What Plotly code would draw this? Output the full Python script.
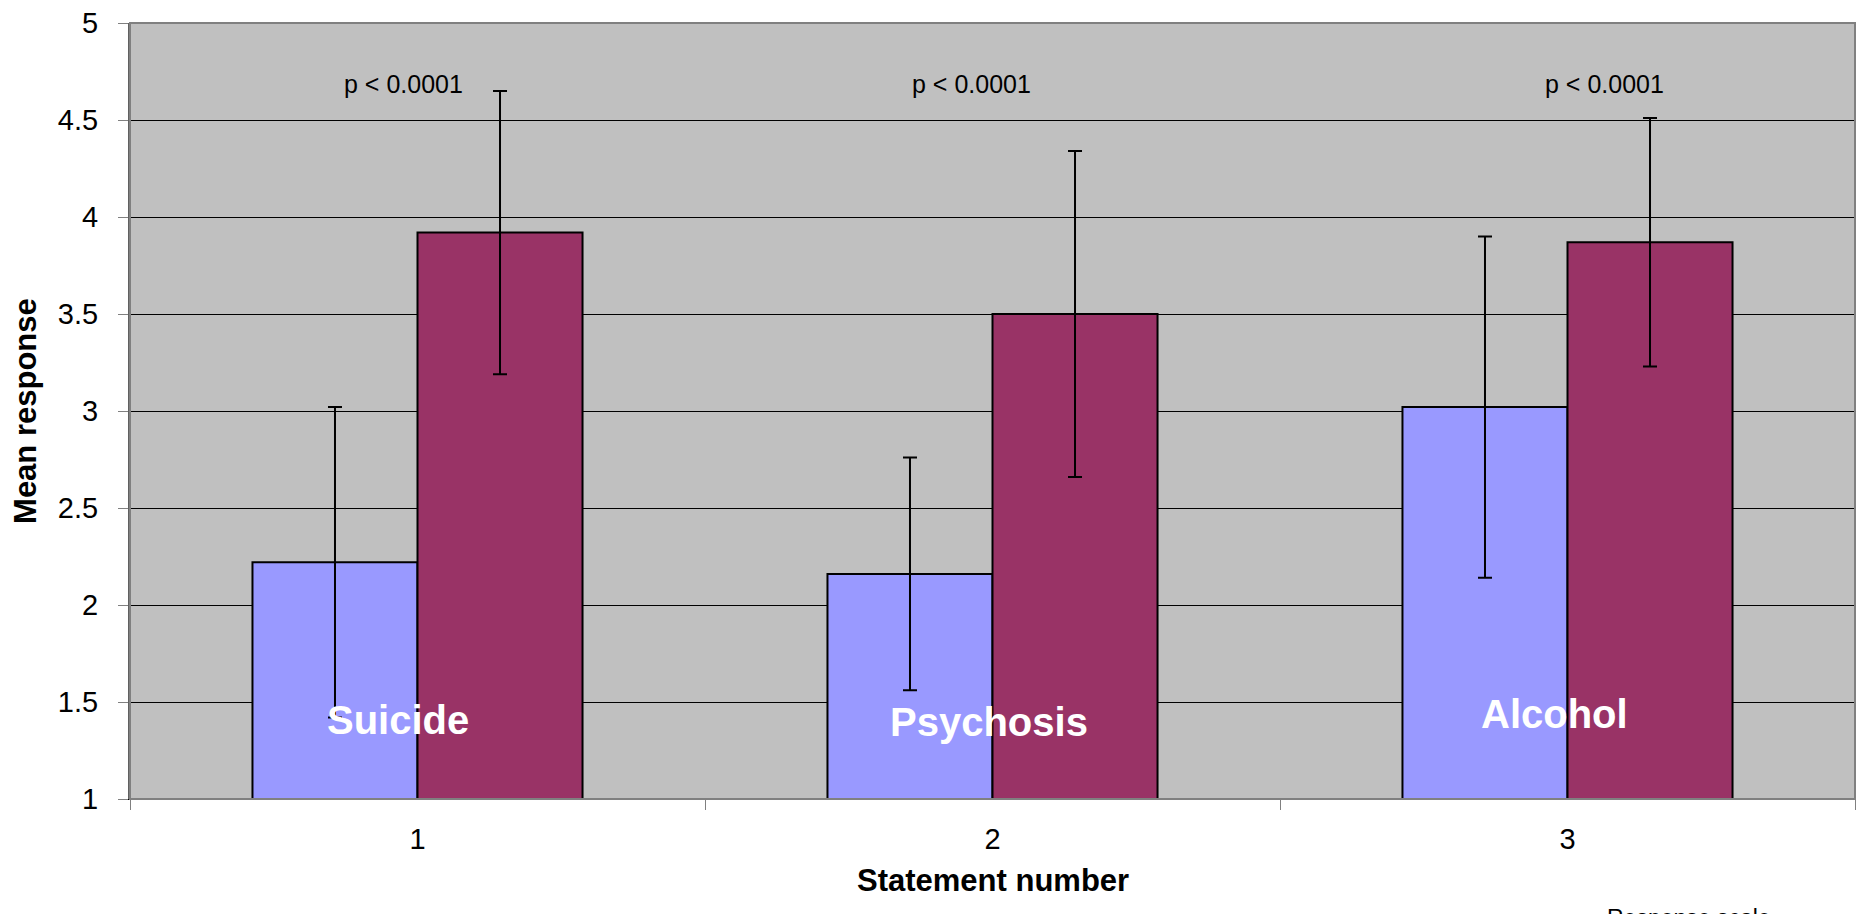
import plotly.graph_objects as go

categories = ["1", "2", "3"]
group1_means = [2.22, 2.16, 3.02]
group1_err = [0.80, 0.60, 0.88]
group2_means = [3.92, 3.50, 3.87]
group2_err = [0.73, 0.84, 0.64]
statement_labels = ["Suicide", "Psychosis", "Alcohol"]
p_labels = ["p < 0.0001", "p < 0.0001", "p < 0.0001"]
y_ticks = [1, 1.5, 2, 2.5, 3, 3.5, 4, 4.5, 5]

FONT = "Liberation Sans, Arial, sans-serif"

fig = go.Figure()
fig.add_trace(go.Bar(
    x=categories, y=group1_means,
    marker=dict(color="#9999FF", line=dict(color="black", width=2)),
    error_y=dict(type="data", array=group1_err, visible=True, color="black", thickness=2, width=7),
    hoverinfo="skip", showlegend=False,
))
fig.add_trace(go.Bar(
    x=categories, y=group2_means,
    marker=dict(color="#993366", line=dict(color="black", width=2)),
    error_y=dict(type="data", array=group2_err, visible=True, color="black", thickness=2, width=7),
    hoverinfo="skip", showlegend=False,
))

label_dx = [-0.034, -0.006, -0.023]
label_y = [1.407, 1.397, 1.438]
p_dx = [-0.025, -0.036, 0.065]
annotations = []
for i, lab in enumerate(statement_labels):
    annotations.append(dict(x=i + label_dx[i], y=label_y[i], xref="x", yref="y", text=lab,
                            showarrow=False, font=dict(family=FONT, size=40, color="white", weight="bold")))
for i, lab in enumerate(p_labels):
    annotations.append(dict(x=i + p_dx[i], y=4.686, xref="x", yref="y", text=lab,
                            showarrow=False, font=dict(family=FONT, size=25, color="black")))
annotations.append(dict(x=0.5, y=-0.1044, xref="paper", yref="paper", text="<b>Statement number</b>",
                        showarrow=False, yanchor="middle", font=dict(family=FONT, size=31, color="black")))
annotations.append(dict(x=-0.0609, y=0.5, xref="paper", yref="paper", text="<b>Mean response</b>",
                        showarrow=False, textangle=-90, xanchor="center", yanchor="middle",
                        font=dict(family=FONT, size=31, color="black")))
annotations.append(dict(x=0.904, y=-0.1345, xref="paper", yref="paper", text="Response scale",
                        showarrow=False, yanchor="top", xanchor="center",
                        font=dict(family=FONT, size=23, color="black")))

fig.update_layout(
    width=1860, height=914, autosize=False,
    margin=dict(l=130, r=5, t=23, b=115, autoexpand=False),
    paper_bgcolor="white", plot_bgcolor="#C0C0C0",
    barmode="group", bargap=0.426, bargroupgap=0,
    font=dict(family=FONT, color="black"),
    annotations=annotations,
    shapes=[dict(type="rect", xref="paper", yref="paper", x0=0, x1=1, y0=0, y1=1,
                 line=dict(color="#808080", width=2), layer="above")],
)
fig.update_xaxes(
    type="category", tickson="boundaries", ticks="outside", ticklen=10, tickcolor="#808080",
    tickfont=dict(size=29), showgrid=False, showline=True, linecolor="black", linewidth=1,
    ticklabelstandoff=14, zeroline=False, fixedrange=True,
)
fig.update_yaxes(
    range=[1, 5], tickvals=y_ticks, ticks="outside", ticklen=10, tickcolor="#808080",
    tickfont=dict(size=29), showgrid=True, gridcolor="black", gridwidth=1,
    showline=True, linecolor="#606060", linewidth=2, zeroline=False, ticklabelstandoff=14,
    fixedrange=True,
)
fig.write_html(
    "out.html",
    config={"displayModeBar": False},
    post_script="document.body.style.margin='0';document.body.style.overflow='hidden';",
)
